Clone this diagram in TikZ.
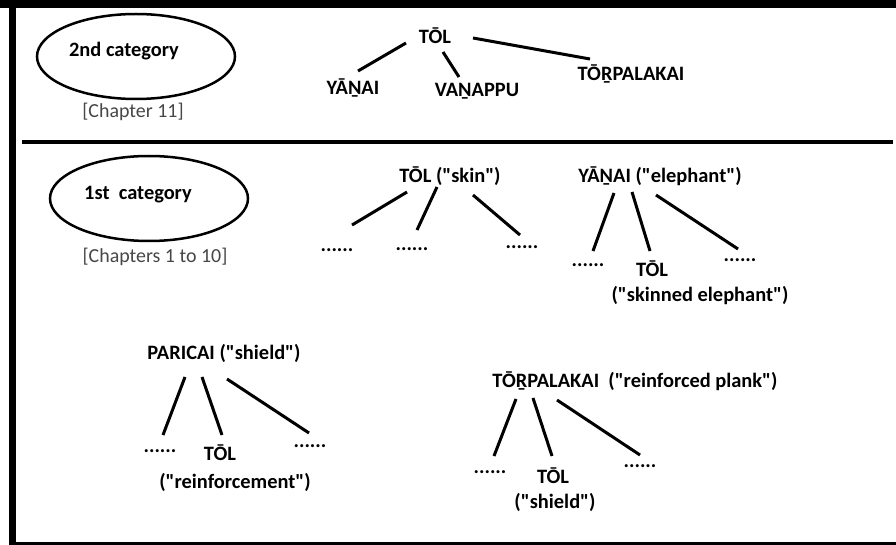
\documentclass[tikz,border=0pt]{standalone}
\usepackage{fontspec}
\setmainfont{Carlito}[Ligatures=TeXOff]
\usetikzlibrary{shapes.geometric}
\tikzset{
  lbl/.style={anchor=base, inner sep=0pt, font=\fontsize{20.5}{24}\selectfont\bfseries},
  sub/.style={anchor=base, inner sep=0pt, font=\fontsize{20}{24}\selectfont, text=black!72},
  cat/.style={draw, ellipse, line width=2.5bp, inner sep=0pt, minimum width=198bp, minimum height=85bp},
  edge/.style={line width=3bp},
  frame/.style={fill=black}
}
\begin{document}
\begin{tikzpicture}[x=1bp,y=-1bp]
\fill[white] (0,0) rectangle (896,545);
\useasboundingbox (0,0) rectangle (896,545);
% frame
\fill[frame] (9,0) rectangle (16,545);
\fill[frame] (0,0) rectangle (896,8);
\fill[frame] (9,542) rectangle (896,545);
\draw[line width=3.5bp] (22,142) -- (893,142);

% ---- 2nd category ----
\node[cat] (ell2) at (136,56.5) {};
\node[lbl] (cat2) at (124,57) {2nd category};
\node[sub] (ch11) at (133,118) {[Chapter 11]};

\node[lbl] (tolA) at (435,44) {TŌL};
\node[lbl] (yanaiA) at (353,95) {YĀṈAI};
\node[lbl] (vanappuA) at (477,97) {VAṈAPPU};
\node[lbl] (torpA) at (631,81) {TŌṞPALAKAI};
\draw[edge] ([shift={(-29,-1)}]tolA.base) -- ([shift={(5,-24)}]yanaiA.base);
\draw[edge] ([shift={(8,8)}]tolA.base) -- ([shift={(-18,-20)}]vanappuA.base);
\draw[edge] ([shift={(38,-6)}]tolA.base) -- ([shift={(-41,-22)}]torpA.base);

% ---- 1st category ----
\node[cat] (ell1) at (149,198.5) {};
\node[lbl] (cat1) at (138,200) {1st\ \ category};
\node[sub] (ch110) at (155,263) {[Chapters 1 to 10]};

% skin tree
\node[lbl] (skin) at (450,183) {TŌL ("skin")};
\node[lbl] (d1) at (337,252) {......};
\node[lbl] (d2) at (412,251) {......};
\node[lbl] (d3) at (522,249) {......};
\draw[edge] ([shift={(-43,9)}]skin.base) -- ([shift={(15,-27)}]d1.base);
\draw[edge] ([shift={(-13,4)}]skin.base) -- ([shift={(5,-21)}]d2.base);
\draw[edge] ([shift={(23,12)}]skin.base) -- ([shift={(-2,-14)}]d3.base);

% elephant tree
\node[lbl] (eleph) at (660,183) {YĀṈAI ("elephant")};
\node[lbl] (d4) at (588,267) {......};
\node[lbl] (tolE) at (652,277) {TŌL};
\node[lbl] (tolEg) at (700,302) {("skinned elephant")};
\node[lbl] (d5) at (740,262) {......};
\draw[edge] ([shift={(-46,10)}]eleph.base) -- ([shift={(5,-16)}]d4.base);
\draw[edge] ([shift={(-28,9)}]eleph.base) -- ([shift={(-2,-26)}]tolE.base);
\draw[edge] ([shift={(-4,12)}]eleph.base) -- ([shift={(-2,-13)}]d5.base);

% paricai tree
\node[lbl] (paricai) at (224,359) {PARICAI ("shield")};
\node[lbl] (d6) at (160,452) {......};
\node[lbl] (tolP) at (220,460) {TŌL};
\node[lbl] (tolPg) at (235,488) {("reinforcement")};
\node[lbl] (d7) at (310,447) {......};
\draw[edge] ([shift={(-39,18)}]paricai.base) -- ([shift={(3,-17)}]d6.base);
\draw[edge] ([shift={(-22,18)}]paricai.base) -- ([shift={(2,-25)}]tolP.base);
\draw[edge] ([shift={(3,20)}]paricai.base) -- ([shift={(-1,-14)}]d7.base);

% torpalakai tree
\node[lbl] (torpB) at (635,387) {TŌṞPALAKAI\ \ ("reinforced plank")};
\node[lbl] (d8) at (490,473) {......};
\node[lbl] (tolT) at (553,483) {TŌL};
\node[lbl] (tolTg) at (555,508) {("shield")};
\node[lbl] (d9) at (640,467) {......};
\draw[edge] ([shift={(-119,12)}]torpB.base) -- ([shift={(4,-17)}]d8.base);
\draw[edge] ([shift={(-102,11)}]torpB.base) -- ([shift={(-1,-27)}]tolT.base);
\draw[edge] ([shift={(-78,13)}]torpB.base) -- ([shift={(0,-12)}]d9.base);
\end{tikzpicture}
\end{document}
